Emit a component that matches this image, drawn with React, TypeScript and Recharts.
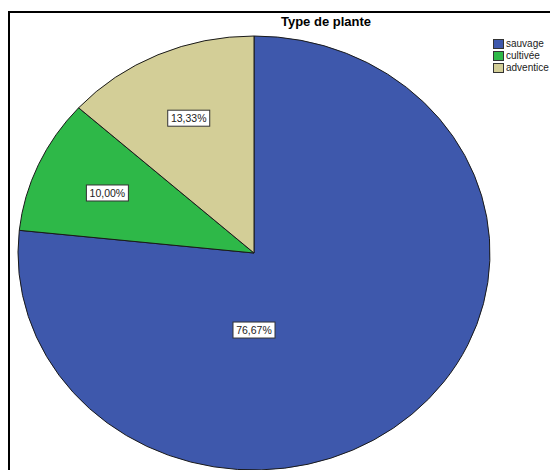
import React from 'react';
import { PieChart, Pie, Cell, Legend } from 'recharts';

const categories = ['sauvage', 'cultivée', 'adventice'];
const counts = [23, 3, 4];
const colors = ['#3E58AC', '#2EB848', '#D3CE97'];
const title = 'Type de plante';

const data = categories.map((name, i) => ({ name, value: counts[i] }));

const W = 550;
const H = 470;
const SX = 236 / 217; // horizontal stretch of the pie
const RAD = Math.PI / 180;

function EllipseSector(props: any) {
  const { cx, cy, outerRadius, startAngle, endAngle, fill } = props;
  const rx = outerRadius * SX;
  const ry = outerRadius;
  const x1 = cx + rx * Math.cos(startAngle * RAD);
  const y1 = cy - ry * Math.sin(startAngle * RAD);
  const x2 = cx + rx * Math.cos(endAngle * RAD);
  const y2 = cy - ry * Math.sin(endAngle * RAD);
  const large = Math.abs(endAngle - startAngle) > 180 ? 1 : 0;
  const sweep = startAngle > endAngle ? 1 : 0;
  const d = `M ${cx} ${cy} L ${x1} ${y1} A ${rx} ${ry} 0 ${large} ${sweep} ${x2} ${y2} Z`;
  return <path d={d} fill={fill} stroke="#1a1a1a" strokeWidth={1} strokeLinejoin="round" />;
}

function renderLabel(props: any) {
  const { cx, cy, midAngle, outerRadius, percent } = props;
  let ang = midAngle;
  let f = 0.68;
  if (percent > 0.5) {
    ang = 270;
    f = 0.355;
  }
  const x = cx + outerRadius * SX * f * Math.cos(ang * RAD);
  const y = cy - outerRadius * f * Math.sin(ang * RAD);
  const txt = (percent * 100).toFixed(2).replace('.', ',') + '%';
  const bw = 42;
  const bh = 16;
  return (
    <g>
      <rect x={x - bw / 2} y={y - bh / 2} width={bw} height={bh} fill="#ffffff" stroke="#333333" strokeWidth={1} />
      <text x={x} y={y + 4} textAnchor="middle" fontFamily="Arial, 'Liberation Sans', sans-serif" fontSize={10.5} fill="#222222">
        {txt}
      </text>
    </g>
  );
}

function LegendContent() {
  return (
    <div style={{ fontFamily: "Arial, 'Liberation Sans', sans-serif", fontSize: 10, color: '#222', lineHeight: '12px', whiteSpace: 'nowrap' }}>
      {categories.map((c, i) => (
        <div key={c} style={{ display: 'flex', alignItems: 'center', height: 12 }}>
          <span style={{ display: 'inline-block', width: 9, height: 8, background: colors[i], border: '1px solid #333', marginRight: 2 }} />
          <span>{c}</span>
        </div>
      ))}
    </div>
  );
}

export default function App() {
  return (
    <div style={{ position: 'absolute', left: 0, top: 0, width: W, height: H, overflow: 'hidden', background: '#fff' }}>
      <div style={{ position: 'absolute', left: 8, top: 11, width: 700, height: 700, border: '2px solid #000', boxSizing: 'border-box' }} />
      <PieChart width={W} height={H} margin={{ top: 0, right: 0, bottom: 0, left: 0 }}>
        <Pie
          data={data}
          dataKey="value"
          nameKey="name"
          cx={254}
          cy={253}
          outerRadius={217}
          startAngle={90}
          endAngle={-270}
          shape={EllipseSector}
          label={renderLabel}
          labelLine={false}
          isAnimationActive={false}
        >
          {data.map((d, i) => (
            <Cell key={d.name} fill={colors[i]} />
          ))}
        </Pie>
        <Legend content={LegendContent} wrapperStyle={{ position: 'absolute', top: 38, left: 493, width: 80 }} />
      </PieChart>
      <div style={{ position: 'absolute', left: 0, top: 14, width: 652, textAlign: 'center', fontFamily: "Arial, 'Liberation Sans', sans-serif", fontWeight: 'bold', fontSize: 13, color: '#000' }}>
        {title}
      </div>
    </div>
  );
}
